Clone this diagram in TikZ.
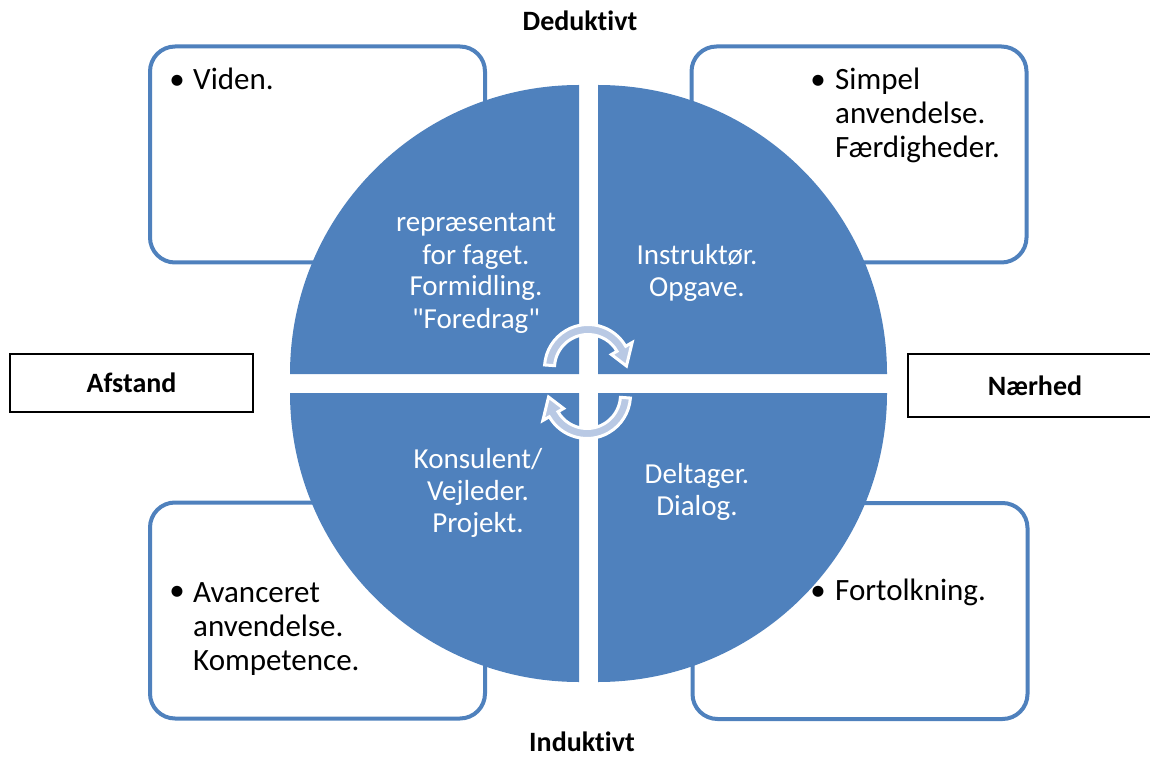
\documentclass[tikz,border=0pt]{standalone}
\usepackage{fontspec}
\setmainfont{Carlito}[Ligatures={TeX,CommonOff}]
\newfontfamily\plainq{Carlito}
\definecolor{quad}{HTML}{4F81BD}
\definecolor{cyc}{HTML}{B9C9E4}

\begin{document}
\begin{tikzpicture}[x=1pt,y=1pt,
  stagebox/.style={draw=quad,line width=4pt,rounded corners=25pt,fill=white,
    minimum width=335pt,minimum height=216pt},
  polebox/.style={draw=black,line width=1.5pt,fill=white,
    font=\bfseries\fontsize{28}{32}\selectfont},
  roletext/.style={text=white,font=\fontsize{29}{32}\selectfont,align=center,anchor=base,inner sep=0pt},
  itemtext/.style={font=\fontsize{31}{34}\selectfont,align=left,anchor=base west,inner sep=0pt},
  bullet/.style={font=\fontsize{31}{34}\selectfont,anchor=base,inner sep=0pt},
  dirlabel/.style={font=\bfseries\fontsize{28}{32}\selectfont,anchor=base,inner sep=0pt},
  cycarrow/.style={fill=cyc,draw=white,line width=3pt}]

  \useasboundingbox (0,0) rectangle (1150,756);

  \node[stagebox] (viden) at (317.5,601.5) {};
  \node[stagebox] (simpel) at (859,601.5) {};
  \node[stagebox] (avanc) at (317.5,145.5) {};
  \node[stagebox] (fort) at (860,145) {};

  \fill[quad] (579,382) -- (290,382) arc[start angle=180,end angle=90,radius=289pt] -- cycle;
  \fill[quad] (598,382) -- (598,671) arc[start angle=90,end angle=0,radius=289pt] -- cycle;
  \fill[quad] (579,363) -- (579,74) arc[start angle=270,end angle=180,radius=289pt] -- cycle;
  \fill[quad] (598,363) -- (887,363) arc[start angle=0,end angle=-90,radius=289pt] -- cycle;

  % anchor=base sits on the last line
  \node[roletext] (rep) at (476,428) {repræsentant\\for faget.\\Formidling.\\{\plainq"Foredrag"}};
  \node[roletext] (instr) at (697,459) {Instruktør.\\Opgave.};
  \node[roletext] (kons) at (478,224) {Konsulent/\\Vejleder.\\Projekt.};
  \node[roletext] (delt) at (697,241) {Deltager.\\Dialog.};

  \filldraw[cycarrow,shift={(588,388)}] (176:33.5pt) arc[start angle=176,end angle=30,radius=33.5pt]
    -- (30:27pt) -- (3:38.5pt) -- (30:51pt) -- (30:43.5pt)
    arc[start angle=30,end angle=176,radius=43.5pt] -- cycle;
  \filldraw[cycarrow,shift={(587,361)},rotate=180] (176:33.5pt) arc[start angle=176,end angle=30,radius=33.5pt]
    -- (30:27pt) -- (3:38.5pt) -- (30:51pt) -- (30:43.5pt)
    arc[start angle=30,end angle=176,radius=43.5pt] -- cycle;

  \node[bullet] (b1) at (177,666) {•};
  \node[itemtext] (t1) at (193,666) {Viden.};
  \node[bullet] (b2) at (818,666) {•};
  \node[itemtext] (t2) at (835,598) {Simpel\\anvendelse.\\Færdigheder.};
  \node[bullet] (b3) at (177,156) {•};
  \node[itemtext] (t3) at (193,86) {Avanceret\\anvendelse.\\Kompetence.};
  \node[bullet] (b4) at (818,156) {•};
  \node[itemtext] (t4) at (835,156) {Fortolkning.};

  \node[dirlabel] (ded) at (580,725) {Deduktivt};
  \node[dirlabel] (ind) at (582,5) {Induktivt};
  \node[polebox,minimum width=243pt,minimum height=58pt] (afst) at (131.5,373) {Afstand};
  \node[polebox,minimum width=254pt,minimum height=63pt] (naer) at (1035,370.5) {Nærhed};
\end{tikzpicture}
\end{document}
